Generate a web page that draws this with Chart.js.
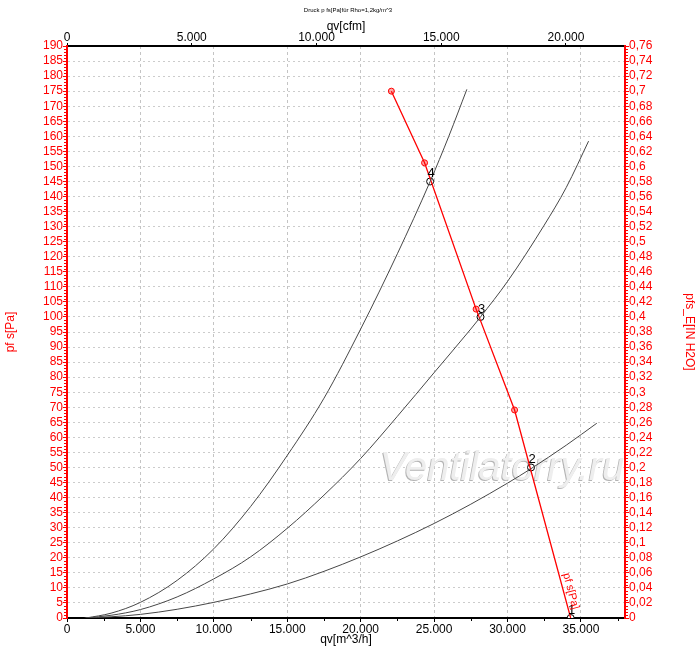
<!DOCTYPE html>
<html lang="de">
<head>
<meta charset="UTF-8">
<title>Druck p fs[Pa] für Rho=1,2kg/m^3</title>
<style>
    body { margin: 0; background: #fff; }
    canvas { display: block; }
</style>
</head>
<body>
<canvas id="fanChart" width="700" height="654"></canvas>

<script src="https://cdn.jsdelivr.net/npm/chart.js@4/dist/chart.umd.min.js"></script>

<script>
    // system curves: qv [m^3/h] -> pf s [Pa]
    const sysAQv = [1300, 3000, 5000, 7500, 10000, 12500, 15000, 17500, 20000, 22500, 24730, 26000, 27230];
    const sysAPa = [0, 1.6, 5.2, 12.5, 23, 37, 54, 73, 96, 121, 145, 160, 175.6];

    const sysBQv = [1300, 3000, 5000, 7500, 10000, 12500, 15000, 17500, 20000, 22500, 25000, 27500, 28160, 30000, 32500, 34000, 35520];
    const sysBPa = [0, 0.9, 2.8, 7, 13, 20.3, 29.8, 40.8, 53, 67, 81.5, 96, 100, 111.8, 130.5, 143, 158.4];

    const sysCQv = [1200, 3000, 5000, 7500, 10000, 12500, 15000, 17500, 20000, 22500, 25000, 27500, 30000, 31600, 34000, 36080];
    const sysCPa = [0, 0.4, 1.2, 2.9, 5.2, 8, 11.3, 15.5, 20.3, 25.6, 31.4, 37.8, 44.8, 49.6, 57.4, 64.7];

    // fan curve (red)
    const fanQv = [22090, 24350, 27860, 30480, 34300];
    const fanPa = [175, 151.2, 102.6, 69.1, 0];

    // operating points
    const opQv = [34300, 31600, 28160, 24730];
    const opPa = [0, 50, 100, 145];
    const opLabels = ['1', '2', '3', '4'];

    // axes
    const qvMax = 38000;
    const m3hPerCfm = 1.699;
    const paMax = 190;
    const paPerInH2O = 250;
    const qvTicks = [0, 5000, 10000, 15000, 20000, 25000, 30000, 35000];
    const cfmTicks = [0, 5000, 10000, 15000, 20000];
    const paTicks = Array.from({ length: paMax / 5 + 1 }, (_, i) => i * 5);

    const pts = (xs, ys) => xs.map((x, i) => ({ x: x, y: ys[i] }));
    const thousands = v => String(Math.round(v)).replace(/\B(?=(\d{3})+(?!\d))/g, '.');
    const setTicks = values => s => { s.ticks = values.map(v => ({ value: v })); };
    const FONT = '"Liberation Sans", Arial, sans-serif';
    Chart.defaults.font.family = FONT;
    Chart.defaults.font.size = 12;

    const curveStyle = {
        showLine: true,
        borderColor: '#474747',
        borderWidth: 1,
        pointRadius: 0,
        cubicInterpolationMode: 'monotone'
    };

    const extras = {
        id: 'extras',
        beforeDatasetsDraw(chart) {
            const ctx = chart.ctx;
            const x = chart.scales.x.getPixelForValue(21300);
            const y = chart.scales.y.getPixelForValue(45.8);
            ctx.save();
            ctx.font = 'italic 40px ' + FONT;
            ctx.fillStyle = '#b4b4b4';
            ctx.fillText('Ventilatorry.ru', x - 1, y + 1);
            ctx.fillStyle = '#eeeeee';
            ctx.fillText('Ventilatorry.ru', x, y);
            ctx.restore();
        },
        afterDraw(chart) {
            const ctx = chart.ctx;
            const xs = chart.scales.x, ys = chart.scales.y;
            const ca = chart.chartArea;
            ctx.save();

            // minor ticks
            ctx.lineWidth = 1;
            ctx.strokeStyle = 'red';
            ctx.beginPath();
            for (let v = 1; v < paMax; v++) {
                if (v % 5 === 0) continue;
                const y = Math.round(ys.getPixelForValue(v)) + 0.5;
                ctx.moveTo(ca.left - 3, y); ctx.lineTo(ca.left, y);
                ctx.moveTo(ca.right, y); ctx.lineTo(ca.right + 3, y);
            }
            ctx.stroke();
            ctx.strokeStyle = '#000';
            ctx.beginPath();
            for (let v = 2500; v < qvMax; v += 5000) {
                const x = Math.round(xs.getPixelForValue(v)) + 0.5;
                ctx.moveTo(x, ca.bottom); ctx.lineTo(x, ca.bottom + 3);
            }
            ctx.stroke();

            // operating point numbers
            const meta = chart.getDatasetMeta(4);
            ctx.fillStyle = '#000';
            ctx.font = '13px ' + FONT;
            ctx.textAlign = 'center';
            ctx.textBaseline = 'middle';
            meta.data.forEach((el, i) => {
                ctx.fillText(opLabels[i], el.x + 1, el.y - 8);
            });

            // fan curve label along the last segment
            const n = fanQv.length;
            const x1 = xs.getPixelForValue(fanQv[n - 2]), y1 = ys.getPixelForValue(fanPa[n - 2]);
            const x2 = xs.getPixelForValue(fanQv[n - 1]), y2 = ys.getPixelForValue(fanPa[n - 1]);
            const t = 0.88;
            ctx.translate(x1 + (x2 - x1) * t, y1 + (y2 - y1) * t);
            ctx.rotate(Math.atan2(y2 - y1, x2 - x1));
            ctx.fillStyle = 'red';
            ctx.font = '11px ' + FONT;
            ctx.textAlign = 'center';
            ctx.textBaseline = 'alphabetic';
            ctx.fillText('pf s[Pa]', 0, -4);
            ctx.restore();

            // tiny chart title
            ctx.save();
            ctx.font = '6px ' + FONT;
            ctx.fillStyle = '#000';
            ctx.textAlign = 'center';
            ctx.textBaseline = 'middle';
            ctx.fillText('Druck p fs[Pa]für Rho=1,2kg/m^3', (ca.left + ca.right) / 2 + 2, 10);
            ctx.restore();
        }
    };

    new Chart(document.getElementById('fanChart').getContext('2d'), {
        type: 'scatter',
        data: {
            datasets: [
                { ...curveStyle, data: pts(sysAQv, sysAPa) },
                { ...curveStyle, data: pts(sysBQv, sysBPa) },
                { ...curveStyle, data: pts(sysCQv, sysCPa) },
                {
                    data: pts(fanQv, fanPa),
                    showLine: true,
                    borderColor: 'red',
                    borderWidth: 1.3,
                    tension: 0,
                    pointRadius: [3, 3, 3, 3, 0],
                    pointBorderColor: 'red',
                    pointBorderWidth: 1,
                    pointBackgroundColor: 'rgba(255,0,0,0.35)'
                },
                {
                    data: pts(opQv, opPa),
                    showLine: false,
                    pointRadius: 3.5,
                    pointBorderColor: '#000',
                    pointBorderWidth: 1,
                    pointBackgroundColor: '#fff'
                }
            ]
        },
        options: {
            responsive: false,
            animation: false,
            layout: { padding: 0 },
            plugins: {
                legend: { display: false },
                tooltip: { enabled: false }
            },
            scales: {
                x: {
                    type: 'linear',
                    position: 'bottom',
                    min: 0,
                    max: qvMax,
                    afterBuildTicks: setTicks(qvTicks),
                    afterFit: s => { s.height = 36; },
                    ticks: { color: '#000', padding: 0, maxRotation: 0, autoSkip: false, callback: v => thousands(v) },
                    grid: { color: '#c4c4c4', tickColor: '#000', tickLength: 4 },
                    border: { color: '#000', width: 2, dash: [3, 3] },
                    title: { display: true, text: 'qv[m^3/h]', color: '#000', padding: { top: 0, bottom: 7 } }
                },
                xTop: {
                    type: 'linear',
                    position: 'top',
                    display: true,
                    min: 0,
                    max: qvMax / m3hPerCfm,
                    afterBuildTicks: setTicks(cfmTicks),
                    afterFit: s => { s.height = 46; },
                    ticks: { color: '#000', padding: -2, maxRotation: 0, autoSkip: false, callback: v => thousands(v) },
                    grid: { drawOnChartArea: false, tickColor: '#000', tickLength: 3 },
                    border: { color: '#000', width: 2 },
                    title: { display: true, text: 'qv[cfm]', color: '#000', padding: { top: 19, bottom: 0 } }
                },
                y: {
                    type: 'linear',
                    position: 'left',
                    min: 0,
                    max: paMax,
                    afterBuildTicks: setTicks(paTicks),
                    afterFit: s => { s.width = 67; },
                    ticks: { autoSkip: false, color: 'red', padding: 0 },
                    grid: { color: '#cccccc', tickColor: 'red', tickLength: 4 },
                    border: { color: 'red', width: 2, dash: [2, 3] },
                    title: { display: true, text: 'pf s[Pa]', color: 'red', padding: { top: 3, bottom: 0 } }
                },
                yRight: {
                    type: 'linear',
                    position: 'right',
                    display: true,
                    min: 0,
                    max: paMax,
                    afterBuildTicks: setTicks(paTicks),
                    afterFit: s => { s.width = 75; },
                    ticks: {
                        autoSkip: false,
                        color: 'red',
                        padding: 0,
                        callback: v => parseFloat((v / paPerInH2O).toFixed(2)).toString().replace('.', ',')
                    },
                    grid: { drawOnChartArea: false, tickColor: 'red', tickLength: 4 },
                    border: { color: 'red', width: 2 },
                    title: { display: true, text: 'pfs_E[IN H2O]', color: 'red', padding: { top: 3, bottom: 0 } }
                }
            }
        },
        plugins: [extras]
    });
</script>
</body>
</html>
